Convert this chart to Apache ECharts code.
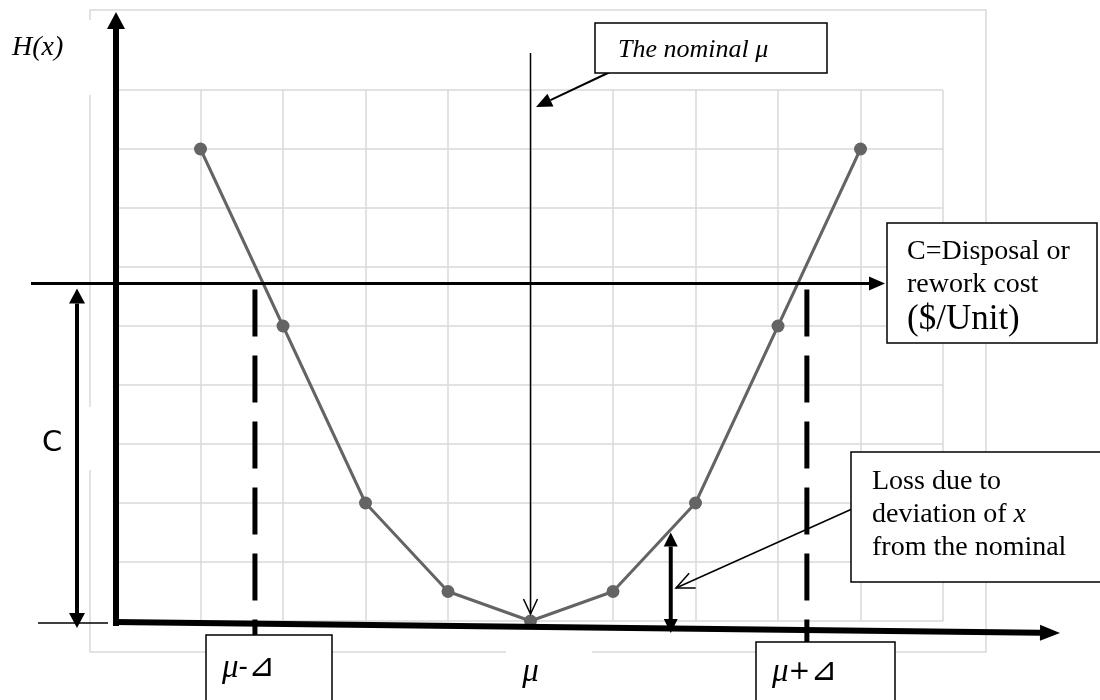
<!DOCTYPE html>
<html>
<head>
  <meta charset="utf-8">
  <title>Loss function H(x)</title>
  <script src="https://cdn.jsdelivr.net/npm/echarts@6.0.0/dist/echarts.min.js"></script>
  <style>
    html, body { margin: 0; padding: 0; background: #fff; }
  </style>
</head>
<body>
  <div id="main" style="width: 1100px; height: 700px;"></div>

  <script>
    // x positions of the points and the loss
    var xValues = [1, 2, 3, 4, 5, 6, 7, 8, 9];
    var lossValues = [8, 5, 2, 0.5, 0, 0.5, 2, 5, 8];

    // annotation levels in data units
    var nominal = 5;          // the nominal mu
    var costLevel = 5.72;     // C, disposal or rework cost
    var tolLow = 1.66;        // mu - delta
    var tolHigh = 8.35;       // mu + delta
    var lossAt = 6.7;         // x of the "loss due to deviation" arrow
    var lossTop = 1.5;

    // texts
    var yLabel = 'H(x)';
    var nominalText = 'The nominal \u03bc';
    var costLines = ['C=Disposal or', 'rework cost', '($/Unit)'];
    var lossLines = ['Loss due to', 'deviation of {i|x}', 'from the nominal'];
    var cLabel = 'C';
    var lowLabel = '{m|\u03bc}-{t|\u22bf}';
    var midLabel = '{m|\u03bc}';
    var highLabel = '{m|\u03bc}+{t|\u22bf}';

    document.addEventListener('DOMContentLoaded', function () {
      var chartDom = document.getElementById('main');
      var myChart = echarts.init(chartDom, null, { renderer: 'canvas' });

      var gridLine = { color: '#d9d9d9', width: 1.5 };

      var option = {
        animation: false,
        backgroundColor: '#fff',
        grid: { left: 118, right: 157, top: 90, bottom: 79 },
        xAxis: {
          type: 'value', min: 0, max: 10, interval: 1,
          axisLine: { show: false }, axisTick: { show: false }, axisLabel: { show: false },
          splitLine: { show: true, lineStyle: gridLine }
        },
        yAxis: {
          type: 'value', min: 0, max: 9, interval: 1,
          axisLine: { show: false }, axisTick: { show: false }, axisLabel: { show: false },
          splitLine: { show: true, lineStyle: gridLine }
        },
        series: [{
          type: 'line',
          data: xValues.map(function (x, i) { return [x, lossValues[i]]; }),
          symbol: 'circle',
          symbolSize: 13,
          lineStyle: { color: '#646464', width: 3 },
          itemStyle: { color: '#646464' },
          z: 5
        }]
      };
      myChart.setOption(option);

      function px(x, y) {
        return myChart.convertToPixel({ gridIndex: 0 }, [x, y]);
      }

      var els = [];
      var Z = { frame: 0, bg: 50, line: 60, box: 70, text: 80 };

      function line(x1, y1, x2, y2, w, extra) {
        var st = { stroke: '#000', lineWidth: w };
        if (extra) { for (var k in extra) st[k] = extra[k]; }
        els.push({ type: 'line', z: Z.line, shape: { x1: x1, y1: y1, x2: x2, y2: y2 }, style: st, silent: true });
      }

      // arrow head at (tx,ty) pointing away from (fx,fy)
      function head(fx, fy, tx, ty, len, half, open) {
        var dx = tx - fx, dy = ty - fy;
        var d = Math.sqrt(dx * dx + dy * dy);
        var ux = dx / d, uy = dy / d;
        var bx = tx - ux * len, by = ty - uy * len;
        var a = [bx - uy * half, by + ux * half];
        var b = [bx + uy * half, by - ux * half];
        if (open) {
          els.push({ type: 'polyline', z: Z.line, shape: { points: [a, [tx, ty], b] },
            style: { stroke: '#000', lineWidth: 1.5, fill: null }, silent: true });
        } else {
          els.push({ type: 'polygon', z: Z.line, shape: { points: [a, [tx, ty], b] },
            style: { fill: '#000' }, silent: true });
        }
        return [bx, by];
      }

      function arrow(fx, fy, tx, ty, w, len, half, open) {
        var base = open ? [tx, ty] : head(fx, fy, tx, ty, len, half, false);
        if (open) head(fx, fy, tx, ty, len, half, true);
        line(fx, fy, base[0], base[1], w);
      }

      function box(x, y, w, h) {
        els.push({ type: 'rect', z: Z.box, shape: { x: x, y: y, width: w, height: h },
          style: { fill: '#fff', stroke: '#000', lineWidth: 1.5 }, silent: true });
      }

      function whiteBg(x, y, w, h) {
        els.push({ type: 'rect', z: Z.bg, shape: { x: x, y: y, width: w, height: h },
          style: { fill: '#fff' }, silent: true });
      }

      function text(str, x, y, font, align, rich) {
        var st = { text: str, font: font, fill: '#000', textAlign: align || 'left', textVerticalAlign: 'middle' };
        if (rich) st.rich = rich;
        els.push({ type: 'text', z: Z.text, x: x, y: y, style: st, silent: true });
      }

      // outer chart frame
      els.push({ type: 'rect', z: Z.frame, shape: { x: 90, y: 10, width: 896, height: 642 },
        style: { fill: null, stroke: '#d9d9d9', lineWidth: 1.5 }, silent: true });

      // white patches behind labels sitting on the frame
      whiteBg(0, 20, 100, 75);
      whiteBg(82, 407, 16, 63);
      whiteBg(506, 645, 86, 55);

      var origin = px(0, 0);
      var costY = px(0, costLevel)[1];
      var nomX = px(nominal, 0)[0];
      var lowX = px(tolLow, 0)[0];
      var highX = px(tolHigh, 0)[0];
      var lossP = px(lossAt, lossTop);

      // H(x) axis and x axis
      arrow(116, 626, 116, 12, 6, 17, 9, false);
      arrow(113, 622, 1060, 633, 6, 20, 8, false);

      // cost level line
      arrow(31, costY, 885, costY, 3, 16, 7, false);

      // C dimension
      arrow(77, 458, 77, costY + 5, 4, 15, 8, false);
      arrow(77, 458, 77, 628, 4, 15, 8, false);
      line(38, origin[1] + 2, 108, origin[1] + 2, 1.5);

      // tolerance limits (dashed)
      line(lowX, costY + 6, lowX, 635, 5, { lineDash: [47, 19] });
      line(highX, costY + 6, highX, 642, 5, { lineDash: [47, 19] });

      // the nominal
      line(nomX, 53, nomX, 614, 1.5);
      head(nomX, 53, nomX, 614, 15, 7, true);
      arrow(610, 72, 536, 107, 2, 16, 7, false);

      // loss due to deviation
      arrow(lossP[0], 580, lossP[0], lossP[1], 4, 14, 7, false);
      arrow(lossP[0], 580, lossP[0], 633, 4, 14, 7, false);
      arrow(852, 509, 676, 588, 1.5, 18, 8, true);

      // boxes
      box(595, 23, 232, 50);
      box(887, 223, 210, 120);
      box(851, 452, 260, 130);
      box(206, 635, 126, 80);
      box(756, 642, 139, 80);

      var serif = '"Liberation Serif", "DejaVu Serif", serif';
      text(yLabel, 12, 48, 'italic 28px ' + serif);
      text(nominalText, 618, 50, 'italic 26px ' + serif);
      text(costLines[0], 907, 252, '28px ' + serif);
      text(costLines[1], 907, 285, '28px ' + serif);
      text(costLines[2], 907, 320, '35px ' + serif);
      var rich = { i: { font: 'italic 28px ' + serif } };
      text(lossLines[0], 872, 482, '28px ' + serif);
      text(lossLines[1], 872, 515, '28px ' + serif, 'left', rich);
      text(lossLines[2], 872, 548, '28px ' + serif);
      text(cLabel, 52, 443, '29px "DejaVu Sans", sans-serif', 'center');

      // mu labels: italic mu, upright sign and triangle
      var muRich = {
        m: { font: 'italic 33px ' + serif },
        t: { font: '32px "DejaVu Sans", sans-serif' }
      };
      var symFont = '26px "DejaVu Sans", sans-serif';
      text(lowLabel, 222, 668, symFont, 'left', muRich);
      text(midLabel, nomX, 672, symFont, 'center', muRich);
      text(highLabel, 772, 672, symFont, 'left', muRich);

      myChart.setOption({ graphic: { elements: els } });
    });
  </script>
</body>
</html>
